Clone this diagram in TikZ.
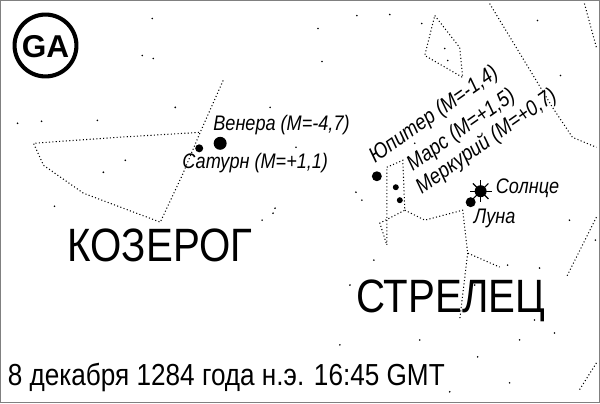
\documentclass[tikz,border=0pt]{standalone}
\usepackage{fontspec}
\setmainfont{Liberation Sans}
\newcommand{\narrow}[1]{\scalebox{0.86}[1]{#1}}
\begin{document}
\begin{tikzpicture}[x=0.03cm, y=-0.03cm,
    cline/.style={dotted, line width=0.9pt},
    star/.style={fill=black},
    planet/.style={fill=black},
    lbl/.style={font=\itshape\fontsize{18}{18}\selectfont, inner sep=0pt},
    rlbl/.style={lbl, font=\itshape\fontsize{18.5}{18.5}\selectfont, anchor=base west, rotate=35},
    big/.style={font=\fontsize{40}{40}\selectfont, inner sep=0pt}]
  % frame
  \draw[gray, line width=1pt] (0,0) rectangle (600,403);
  \useasboundingbox (0,0) rectangle (600,403);
  % logo
  \draw[line width=3.5pt] (45,45) circle (31);
  \node[font=\bfseries\fontsize{27}{27}\selectfont] (logo) at (45,46) {GA};
  % constellation lines
  \draw[cline] (223,80) -- (200,132) -- (182,175) -- (160,222) -- (83,193)
    -- (43,165) -- (33,143) -- (117,137) -- (200,132);
  \draw[cline] (435,15) -- (460,47) -- (463,77) -- (425,55) -- cycle;
  \draw[cline] (490,3) -- (553,107) -- (573,137) -- (597,147);
  \draw[cline] (585,3) -- (597,47);
  \draw[cline] (387,167) -- (403,160) -- (405,210) -- (380,223) -- (387,245) -- cycle;
  \draw[cline] (405,210) -- (425,220) -- (463,210) -- (468,253) -- (500,267);
  \draw[cline] (468,253) -- (460,320);
  \draw[cline] (597,217) -- (567,277);
  \draw[cline] (597,363) -- (580,390);
  % stars
  \foreach \p in {(152,18),(142,55),(153,58),(175,107),(17,123),(41,121),(97,120),
      (125,160),(103,172),(54,206),(270,107),(296,147),(275,208),(273,213),(262,220),
      (318,28),(390,14),(357,15),(422,23),(538,20),(322,61),(445,48),(448,60),
      (415,143),(356,192),(362,200),(561,75),(374,260),(350,285),(570,220),(596,240),
      (540,268),(508,265),(520,340),(535,320),(420,340),(340,345),(478,357),
      (450,392),(510,383),(410,372),(475,285),(555,333)}
    \fill[star] \p circle (0.9);
  % planets
  \fill[planet] (220,143) circle (6.5);
  \fill[planet] (199,148) circle (4);
  \fill[planet] (377,176) circle (5);
  \fill[planet] (396,187) circle (3);
  \fill[planet] (400,200) circle (3);
  \fill[planet] (471,202) circle (5);
  \fill[planet] (481,191) circle (6);
  \foreach \a in {0,45,...,315}
    \draw[line width=1pt] (481,191) -- ++(\a:11);
  % labels
  \node[lbl, anchor=west] (venus) at (213,125) {\narrow{Венера  (M=-4,7)}};
  \node[lbl, anchor=west] (saturn) at (182,163) {\narrow{Сатурн (M=+1,1)}};
  \node[rlbl] (jupiter) at (375,163) {\narrow{Юпитер (M=-1,4)}};
  \node[rlbl] (mars) at (413,171) {\narrow{Марс (M=+1,5)}};
  \node[rlbl] (mercury) at (422,194) {\narrow{Меркурий (M=+0,7)}};
  \node[lbl, anchor=west] (sun) at (496,188) {\narrow{Солнце}};
  \node[lbl, anchor=west] (moon) at (474,218) {\narrow{Луна}};
  \node[big, anchor=west] (capricorn) at (67,245) {\narrow{КОЗЕРОГ}};
  \node[big, anchor=west] (sagittarius) at (356,301) {\narrow{СТРЕЛЕЦ}};
  \node[font=\fontsize{26}{26}\selectfont, inner sep=0pt, anchor=west] (date) at (7,378)
    {\narrow{8 декабря 1284 года н.э. 16:45 GMT}};
\end{tikzpicture}
\end{document}
